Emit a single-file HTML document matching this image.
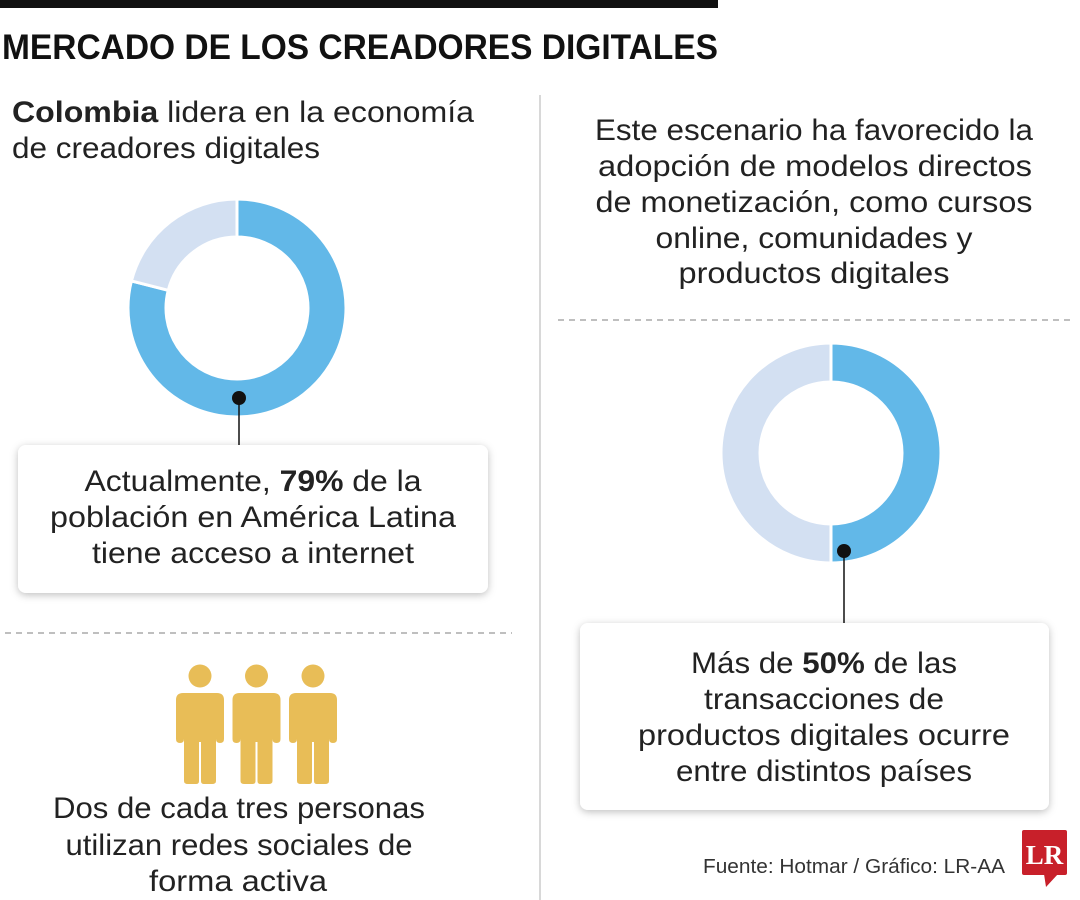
<!DOCTYPE html>
<html><head><meta charset="utf-8"><style>
html,body{margin:0;padding:0;background:#fff;}
svg{display:block;font-family:"Liberation Sans",sans-serif;}
</style></head><body>
<svg width="1080" height="900" viewBox="0 0 1080 900">
<defs>
<filter id="sh" x="-10%" y="-10%" width="120%" height="130%"><feDropShadow dx="0" dy="2" stdDeviation="4" flood-color="#000" flood-opacity="0.25"/></filter>
</defs>
<rect x="0" y="0" width="718" height="8" fill="#111"/>
<text x="2" y="59" font-size="35" font-weight="bold" fill="#111" textLength="716" lengthAdjust="spacingAndGlyphs">MERCADO DE LOS CREADORES DIGITALES</text>
<line x1="540" y1="95" x2="540" y2="900" stroke="#ccc" stroke-width="1.5"/>

<g fill="#222" font-size="30">
<text x="12" y="122" textLength="462" lengthAdjust="spacingAndGlyphs"><tspan font-weight="bold">Colombia</tspan> lidera en la economía</text>
<text x="12" y="158" textLength="308" lengthAdjust="spacingAndGlyphs">de creadores digitales</text>
</g>

<g fill="#222" font-size="30" text-anchor="middle">
<text x="814" y="140" textLength="438" lengthAdjust="spacingAndGlyphs">Este escenario ha favorecido la</text>
<text x="815" y="176" textLength="434" lengthAdjust="spacingAndGlyphs">adopción de modelos directos</text>
<text x="814" y="212" textLength="437" lengthAdjust="spacingAndGlyphs">de monetización, como cursos</text>
<text x="814" y="248" textLength="317" lengthAdjust="spacingAndGlyphs">online, comunidades y</text>
<text x="814" y="283" textLength="271" lengthAdjust="spacingAndGlyphs">productos digitales</text>
</g>

<line x1="5" y1="633" x2="512" y2="633" stroke="#aaa" stroke-width="1.5" stroke-dasharray="6,5"/>
<line x1="558" y1="320" x2="1075" y2="320" stroke="#aaa" stroke-width="1.5" stroke-dasharray="6,5"/>

<g id="donut1"></g>
<g id="donut2"></g>

<line x1="239" y1="398" x2="239" y2="446" stroke="#111" stroke-width="1.5"/>
<circle cx="239" cy="398" r="7" fill="#111"/>
<rect x="18" y="445" width="470" height="148" rx="8" fill="#fff" filter="url(#sh)"/>
<g fill="#222" font-size="30" text-anchor="middle">
<text x="253" y="491" textLength="337" lengthAdjust="spacingAndGlyphs">Actualmente, <tspan font-weight="bold">79%</tspan> de la</text>
<text x="253" y="527" textLength="406" lengthAdjust="spacingAndGlyphs">población en América Latina</text>
<text x="253" y="563" textLength="322" lengthAdjust="spacingAndGlyphs">tiene acceso a internet</text>
</g>

<line x1="844" y1="551" x2="844" y2="624" stroke="#111" stroke-width="1.5"/>
<circle cx="844" cy="551" r="7" fill="#111"/>
<rect x="580" y="623" width="469" height="187" rx="8" fill="#fff" filter="url(#sh)"/>
<g fill="#222" font-size="30" text-anchor="middle">
<text x="824" y="673" textLength="266" lengthAdjust="spacingAndGlyphs">Más de <tspan font-weight="bold">50%</tspan> de las</text>
<text x="824" y="709" textLength="240" lengthAdjust="spacingAndGlyphs">transacciones de</text>
<text x="824" y="745" textLength="372" lengthAdjust="spacingAndGlyphs">productos digitales ocurre</text>
<text x="824" y="781" textLength="296" lengthAdjust="spacingAndGlyphs">entre distintos países</text>
</g>

<g id="people" fill="#e8bd57"></g>

<g fill="#222" font-size="30" text-anchor="middle">
<text x="239" y="818" textLength="372" lengthAdjust="spacingAndGlyphs">Dos de cada tres personas</text>
<text x="239" y="855" textLength="347" lengthAdjust="spacingAndGlyphs">utilizan redes sociales de</text>
<text x="238" y="891" textLength="178" lengthAdjust="spacingAndGlyphs">forma activa</text>
</g>

<text x="703" y="873" font-size="20" fill="#333" textLength="302" lengthAdjust="spacingAndGlyphs">Fuente: Hotmar / Gráfico: LR-AA</text>
<g>
<rect x="1022" y="830" width="45" height="45" rx="2" fill="#c8202a"/>
<polygon points="1044,874 1058,874 1046,887" fill="#c8202a"/>
<text x="1044.5" y="864" font-family="Liberation Serif, serif" font-weight="bold" font-size="27" fill="#fff" text-anchor="middle">LR</text>
</g>

<script>
const donut1Labels = ['Con acceso', 'Sin acceso'];
const donut1Values = [79, 21];
const donut2Labels = ['Entre países', 'Resto'];
const donut2Values = [50, 50];
const personCount = 3;

const NS = 'http://www.w3.org/2000/svg';
const colors = ['#62b8e8', '#d3e0f2'];
function arcPath(cx, cy, r0, r1, a0, a1) {
  const p = (r, a) => [cx + r * Math.sin(a), cy - r * Math.cos(a)];
  const large = (a1 - a0) > Math.PI ? 1 : 0;
  const [x0, y0] = p(r1, a0), [x1, y1] = p(r1, a1), [x2, y2] = p(r0, a1), [x3, y3] = p(r0, a0);
  return `M${x0},${y0} A${r1},${r1} 0 ${large} 1 ${x1},${y1} L${x2},${y2} A${r0},${r0} 0 ${large} 0 ${x3},${y3} Z`;
}
function drawDonut(gid, labels, values, cx, cy, r0, r1) {
  const g = document.getElementById(gid);
  const total = values.reduce((a, b) => a + b, 0);
  let a = 0;
  values.forEach((v, i) => {
    const a1 = a + v / total * Math.PI * 2;
    const path = document.createElementNS(NS, 'path');
    path.setAttribute('d', arcPath(cx, cy, r0, r1, a, Math.min(a1, Math.PI * 2 - 1e-6)));
    path.setAttribute('fill', colors[i % colors.length]);
    path.setAttribute('stroke', '#fff');
    path.setAttribute('stroke-width', '3');
    
    
    g.appendChild(path);
    a = a1;
  });
}
drawDonut('donut1', donut1Labels, donut1Values, 237, 308, 71, 109);
drawDonut('donut2', donut2Labels, donut2Values, 831, 453, 71, 110);

const pg = document.getElementById('people');
for (let i = 0; i < personCount; i++) {
  const cx = 200 + i * 56.5;
  const head = document.createElementNS(NS, 'circle');
  head.setAttribute('cx', cx);
  head.setAttribute('cy', 676);
  head.setAttribute('r', 11.5);
  
  
  pg.appendChild(head);
  const d = [
    'M', cx - 24, 700, 'Q', cx - 24, 693, cx - 17, 693,
    'L', cx + 17, 693, 'Q', cx + 24, 693, cx + 24, 700,
    'L', cx + 24, 739, 'Q', cx + 24, 743, cx + 20, 743,
    'Q', cx + 16, 743, cx + 16, 739,
    'L', cx + 16, 781, 'Q', cx + 16, 784, cx + 12, 784,
    'L', cx + 4, 784, 'Q', cx + 1, 784, cx + 1, 781,
    'L', cx + 1, 742, 'L', cx - 1, 742, 'L', cx - 1, 781,
    'Q', cx - 1, 784, cx - 4, 784, 'L', cx - 12, 784,
    'Q', cx - 16, 784, cx - 16, 781, 'L', cx - 16, 739,
    'Q', cx - 16, 743, cx - 20, 743, 'Q', cx - 24, 743, cx - 24, 739, 'Z'
  ].join(' ');
  const body = document.createElementNS(NS, 'path');
  body.setAttribute('d', d);
  
  
  pg.appendChild(body);
}
</script>
</svg>
</body></html>
